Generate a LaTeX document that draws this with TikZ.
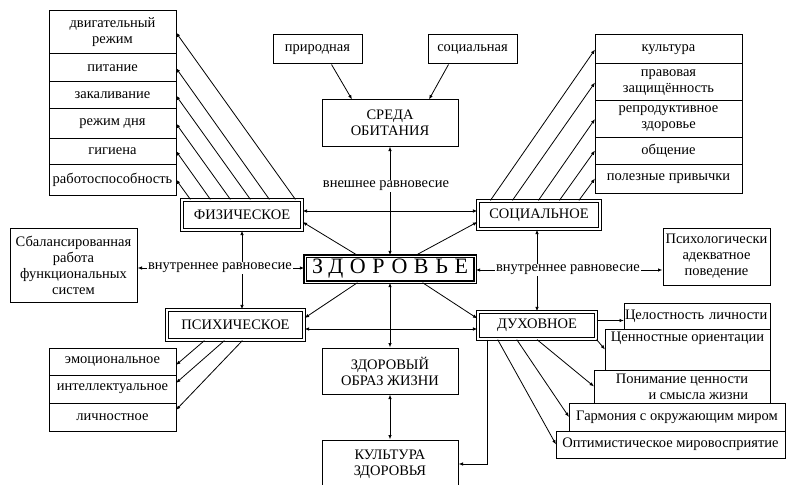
\documentclass[tikz,border=0pt]{standalone}
\usepackage{fontspec}
\setmainfont{Liberation Serif}
\usetikzlibrary{arrows.meta,calc}

\begin{document}
\begin{tikzpicture}[x=1pt,y=-1pt,
	every node/.style={font=\fontsize{14.5}{16}\selectfont},
	cell/.style={draw, line width=1pt, anchor=north west, outer sep=0pt, inner sep=1pt, align=center, minimum width=127pt},
	rcell/.style={cell, minimum width=147pt},
	stair/.style={cell, fill=white},
	box/.style={draw, line width=1pt, align=center, inner sep=1pt},
	sect/.style={draw, line width=1.2pt, double, double distance=1.3pt, inner sep=1pt},
	main/.style={draw, line width=1.4pt, double, double distance=0.9pt, inner sep=2pt, font=\fontsize{22}{24}\selectfont\addfontfeature{LetterSpace=30}},
	lbl/.style={inner sep=1pt},
	arr/.style={line width=0.8pt, -{Latex[length=4.5pt,width=3.5pt]}},
	darr/.style={line width=0.8pt, {Latex[length=4.5pt,width=3.5pt]}-{Latex[length=4.5pt,width=3.5pt]}}]

	\useasboundingbox (0,0) rectangle (786,484);
	\clip (0,0) rectangle (786,484);

	\node[cell, minimum height=43pt] (dvig) at (49,11) {двигательный\\режим};
	\node[cell, minimum height=28pt] (pit) at (dvig.south west) {питание};
	\node[cell, minimum height=27pt] (zak) at (pit.south west) {закаливание};
	\node[cell, minimum height=29pt] (rdn) at (zak.south west) {режим дня};
	\node[cell, minimum height=26pt] (gig) at (rdn.south west) {гигиена};
	\node[cell, minimum height=31pt] (rab) at (gig.south west) {работоспособность};

	\node[box, minimum width=89pt, minimum height=29pt] (prir) at (317.5,49.5) {природная};
	\node[box, minimum width=89pt, minimum height=29pt] (sreds) at (472.5,49.5) {социальная};
	\node[box, minimum width=136pt, minimum height=46pt] (sreda) at (390,123) {СРЕДА\\ОБИТАНИЯ};

	\node[rcell, minimum height=29pt] (kult) at (595,35) {культура};
	\node[rcell, minimum height=37pt] (prav) at (kult.south west) {правовая\\защищённость};
	\node[rcell, minimum height=36pt] (repr) at (prav.south west) {репродуктивное\\здоровье};
	\node[rcell, minimum height=27pt] (obsh) at (repr.south west) {общение};
	\node[rcell, minimum height=29pt] (polez) at (obsh.south west) {полезные привычки};

	\node[sect, minimum width=120pt, minimum height=30pt] (fiz) at (242,215) {ФИЗИЧЕСКОЕ};
	\node[sect, minimum width=122pt, minimum height=28pt] (soc) at (539,215) {СОЦИАЛЬНОЕ};
	\node[sect, minimum width=137pt, minimum height=30pt] (psi) at (235.5,325) {ПСИХИЧЕСКОЕ};
	\node[sect, minimum width=118pt, minimum height=27pt] (duh) at (537,325.5) {ДУХОВНОЕ};
	\node[main, minimum width=170pt, minimum height=26pt] (zdor) at (390,269) {ЗДОРОВЬЕ};

	\node[lbl] (vnesh) at (386,186) {внешнее равновесие};
	\node[lbl] (vnutL) at (220,268) {внутреннее равновесие};
	\node[lbl] (vnutR) at (568,270) {внутреннее равновесие};

	\node[box, minimum width=127pt, minimum height=74pt] (balans) at (73.5,265) {Сбалансированная\\работа\\функциональных\\систем};
	\node[box, minimum width=107pt, minimum height=57pt, text width=105pt] (povd) at (716.5,256.5) {Психологически\\адекватное\\поведение};
	\node[box, minimum width=136pt, minimum height=46pt] (zozh) at (390,371) {ЗДОРОВЫЙ\\ОБРАЗ ЖИЗНИ};
	\node[box, minimum width=136pt, minimum height=48pt] (kultz) at (390,464) {КУЛЬТУРА\\ЗДОРОВЬЯ};

	\node[cell, minimum height=27pt] (emo) at (49,348) {эмоциональное};
	\node[cell, minimum height=28pt] (intl) at (emo.south west) {интеллектуальное};
	\node[cell, minimum height=28pt] (lichn) at (intl.south west) {личностное};

	\node[stair, minimum width=146pt, minimum height=26pt, text width=144pt, align=left] (cel) at (624,303) {Целостность личности};
	\node[stair, minimum width=165pt, inner sep=3pt, text height=9pt, text depth=26pt] (cen) at (605,329) {Ценностные ориентации};
	\node[stair, minimum width=176pt, minimum height=33pt, align=right] (pon) at (594,370) {Понимание ценности\\и смысла жизни};
	\node[stair, minimum width=216pt, minimum height=28pt] (garm) at (569,403) {Гармония с окружающим миром};
	\node[stair, minimum width=229pt, minimum height=27pt] (opt) at (556,431) {Оптимистическое мировосприятие};

	\foreach \n/\dx in {dvig/114, pit/88, zak/69, rdn/49, gig/29, rab/9}
		\draw[arr] ($(fiz.north west)+(\dx,0)$) -- (\n.east);
	\foreach \n/\dx in {kult/13, prav/35, repr/61, obsh/82, polez/101.5}
		\draw[arr] ($(soc.north west)+(\dx,0)$) -- (\n.west);
	\foreach \n/\dx/\dy in {emo/38/-3.5, intl/58/6, lichn/76/7}
		\draw[arr] ($(psi.south west)+(\dx,0)$) -- ([yshift=\dy pt]\n.east);

	\draw[arr] ([xshift=14pt]prir.south) -- ([xshift=-38pt]sreda.north);
	\draw[arr] ([xshift=-24pt]sreds.south) -- ([xshift=39pt]sreda.north);
	\draw[arr] (vnesh.north -| sreda.south) -- (sreda.south);
	\draw[arr] (vnesh.south -| zdor.north) -- (zdor.north);

	\draw[darr] ([yshift=4pt]fiz.east) -- ([yshift=4pt]soc.west);
	\draw[arr] ($(zdor.north west)!0.31!(zdor.north east)$) -- ([yshift=-7pt]fiz.east);
	\draw[arr] ($(zdor.north west)!0.65!(zdor.north east)$) -- ([yshift=-7pt]soc.west);
	\draw[arr] ($(zdor.south west)!0.31!(zdor.south east)$) -- ([yshift=7pt]psi.east);
	\draw[arr] ($(zdor.south west)!0.69!(zdor.south east)$) -- ([yshift=7pt]duh.west);
	\draw[darr] ([yshift=-4pt]psi.east) -- ([yshift=-4pt]psi.east -| duh.west);

	\draw[arr] (vnutL.west) -- (vnutL.west -| balans.east);
	\draw[arr] (vnutL.east) -- (vnutL.east -| zdor.west);
	\draw[arr] (vnutL.north -| fiz.south) -- (fiz.south);
	\draw[arr] (vnutL.south -| fiz.south) -- (fiz.south |- psi.north);

	\draw[arr] (vnutR.west) -- (vnutR.west -| zdor.east);
	\draw[arr] (vnutR.east) -- (vnutR.east -| povd.west);
	\draw[arr] (vnutR.north -| duh.north) -- (duh.north |- soc.south);
	\draw[arr] (vnutR.south -| duh.north) -- (duh.north);

	\draw[darr] (zdor.south) -- (zozh.north);
	\draw[darr] (zozh.south) -- (kultz.north);
	\draw[arr] ([xshift=10pt]duh.south west) |- (kultz.east);

	\draw[arr] ([yshift=5pt]duh.east) -- ([yshift=5pt]duh.east -| cel.west);
	\draw[arr] (duh.south east) -- (cen.west);
	\foreach \n/\f in {pon/0.5, garm/0.33, opt/0.17}
		\draw[arr] ($(duh.south west)!\f!(duh.south east)$) -- (\n.west);

\end{tikzpicture}
\end{document}
